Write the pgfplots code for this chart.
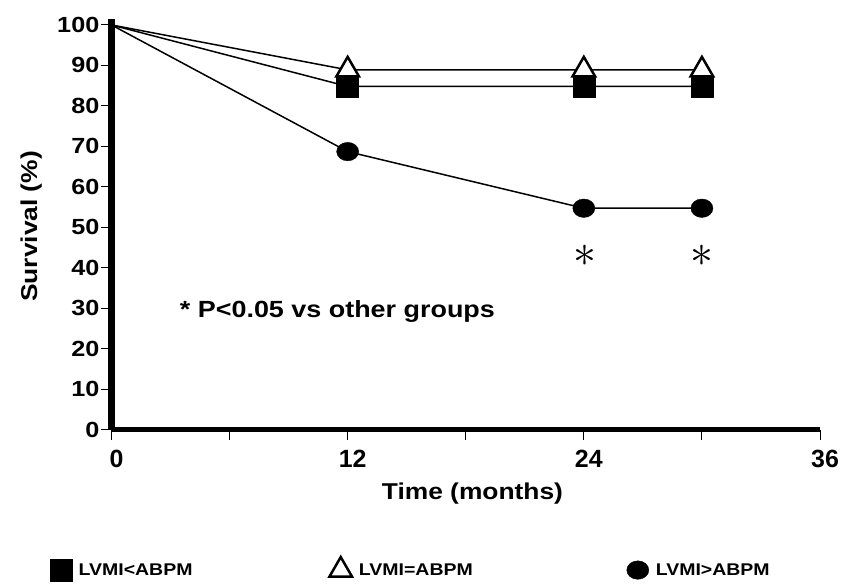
\documentclass[border=0pt]{standalone}
\usepackage{fontspec}
\setmainfont{Liberation Sans}[FakeStretch=1.15]
\newfontfamily\xtickfont{Liberation Sans}[FakeStretch=1.0]
\usepackage{pgfplots}
\pgfplotsset{compat=1.18}
\pgfplotstableread{
x y
0 100
12 84.8
24 84.8
30 84.8
}\lowtab
\pgfplotstableread{
x y
0 100
12 88.9
24 88.9
30 88.9
}\eqtab
\pgfplotstableread{
x y
0 100
12 68.7
24 54.7
30 54.7
}\hightab
\begin{document}
\begin{tikzpicture}
\path[use as bounding box] (-111.5bp,-157.5bp) rectangle (733.5bp,429.5bp);
\begin{axis}[
  scale only axis, width=708.5bp, height=410.6bp,
  xmin=0, xmax=36, ymin=0, ymax=101.5,
  axis lines=left,
  axis line style={-},
  x axis line style={-, line width=5bp},
  y axis line style={-, line width=7bp},
  xtick={0,6,...,36}, xticklabels={0,,12,,24,,36},
  ytick={0,10,...,100},
  tick align=outside, major tick length=10.5bp,
  tick style={line width=1bp, black},
  /pgf/number format/assume math mode=true,
  yticklabel style={font=\bfseries\fontsize{22}{26}\selectfont, inner sep=1.5bp},
  xticklabel style={font=\xtickfont\bfseries\fontsize{25}{30}\selectfont, inner sep=1bp, xshift=5bp, yshift=-9bp},
  clip=false,
  legend image code/.code={\draw[#1] plot coordinates {(0bp,0bp)};},
  legend style={at={(axis cs:-3.15,-34.5)}, anchor=west, draw=none, fill=none,
    inner sep=0pt, font=\bfseries\fontsize{17}{20}\selectfont,
    /tikz/every odd column/.append style={column sep=5bp},
    /tikz/column 2/.append style={column sep=135bp},
    /tikz/column 4/.append style={column sep=152bp}},
  legend columns=3,
]
\addplot[black, line width=1.5bp, no marks, forget plot] table[x=x,y=y] {\lowtab};
\addplot[black, line width=1.5bp, no marks, forget plot] table[x=x,y=y] {\eqtab};
\addplot[black, line width=1.5bp, no marks, forget plot] table[x=x,y=y] {\hightab};
\addplot[only marks, mark=square*, mark size=11bp, black, fill=black,
  skip coords between index={0}{1}] table[x=x,y=y] {\lowtab};
\addlegendentry{LVMI<ABPM}
\addplot[only marks, mark=triangle*, mark size=13bp, black, fill=white,
  mark options={line width=2.5bp}, skip coords between index={0}{1}] table[x=x,y=y] {\eqtab};
\addlegendentry{LVMI=ABPM}
\addplot[only marks, mark=*, mark size=10.5bp, black, fill=black,
  mark options={xscale=1.05, yscale=0.88}, skip coords between index={0}{1}] table[x=x,y=y] {\hightab};
\addlegendentry{LVMI>ABPM}
\node[scale=4.6] at (axis cs:24.08,43.0) {$\ast$};
\node[scale=4.6] at (axis cs:30,43.0) {$\ast$};
\node[anchor=base, font=\bfseries\fontsize{23.5}{28}\selectfont] at (axis cs:11.48,27.8) {* P<0.05 vs other groups};
\node[anchor=base, font=\bfseries\fontsize{23}{28}\selectfont] at (axis cs:18.34,-17.4) {Time (months)};
\node[anchor=base, rotate=90, font=\bfseries\fontsize{23}{28}\selectfont] at (axis cs:-3.78,50.2) {Survival (\%)};
\end{axis}
\end{tikzpicture}
\end{document}
